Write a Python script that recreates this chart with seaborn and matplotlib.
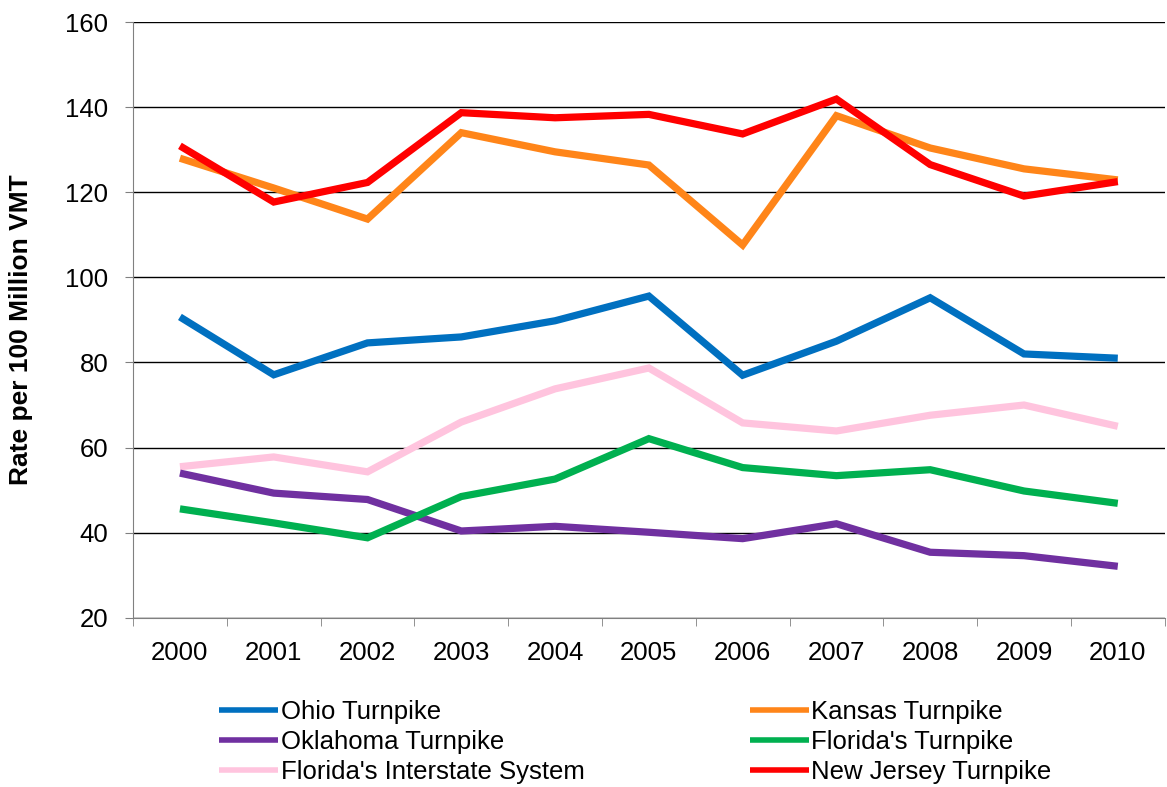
import numpy as np
import pandas as pd
import seaborn as sns
from matplotlib import pyplot as plt
from matplotlib.ticker import FixedLocator

years = ["2000", "2001", "2002", "2003", "2004", "2005", "2006", "2007", "2008", "2009", "2010"]

ohio = [90.7, 77.1, 84.6, 86.0, 89.8, 95.6, 77.0, 85.0, 95.2, 82.0, 81.0]
kansas = [128.0, 121.0, 113.7, 134.0, 129.5, 126.4, 107.6, 138.0, 130.4, 125.5, 122.9]
oklahoma = [54.0, 49.3, 47.8, 40.4, 41.5, 40.1, 38.6, 42.1, 35.4, 34.6, 32.1]
florida_tp = [45.6, 42.3, 38.8, 48.5, 52.6, 62.1, 55.3, 53.4, 54.8, 49.8, 46.9]
florida_is = [55.5, 57.8, 54.3, 66.0, 73.8, 78.7, 65.8, 63.9, 67.6, 70.0, 65.0]
new_jersey = [130.9, 117.7, 122.3, 138.7, 137.5, 138.3, 133.7, 141.9, 126.5, 119.1, 122.5]

series = {
    "Ohio Turnpike": ohio,
    "Kansas Turnpike": kansas,
    "Oklahoma Turnpike": oklahoma,
    "Florida's Turnpike": florida_tp,
    "Florida's Interstate System": florida_is,
    "New Jersey Turnpike": new_jersey,
}
colors = {
    "Ohio Turnpike": "#0070C0",
    "Kansas Turnpike": "#FF8519",
    "Oklahoma Turnpike": "#7030A0",
    "Florida's Turnpike": "#00B050",
    "Florida's Interstate System": "#FFC4DE",
    "New Jersey Turnpike": "#FF0000",
}

rows = []
for name, vals in series.items():
    for i, v in enumerate(vals):
        rows.append({"idx": i, "rate": v, "road": name})
df = pd.DataFrame(rows)

sns.set_style("white")
plt.rcParams['font.family'] = ['Liberation Sans', 'DejaVu Sans']
plt.rcParams['text.color'] = 'black'
plt.rcParams['axes.labelcolor'] = 'black'

fig = plt.figure(figsize=(11.67, 7.87), dpi=100)
ax = fig.add_axes([0.114, 0.215, 0.884, 0.757])

zorders = {"Florida's Interstate System": 2, "Oklahoma Turnpike": 3}
for name in series:
    sub = df[df["road"] == name]
    sns.lineplot(data=sub, x="idx", y="rate", color=colors[name], linewidth=5.2,
                 ax=ax, label=name, zorder=zorders.get(name, 4),
                 solid_joinstyle="miter", solid_capstyle="butt")

ax.set_xlim(-0.5, 10.5)
ax.set_ylim(20, 160)
ax.set_yticks(np.arange(20, 161, 20))
ax.yaxis.grid(True, color="black", linewidth=1.0)
ax.set_axisbelow(True)

ax.set_xticks(range(len(years)))
ax.set_xticklabels(years)
ax.xaxis.set_minor_locator(FixedLocator(np.arange(-0.5, 10.6, 1)))
ax.tick_params(axis="x", which="major", length=0, pad=16.5, labelsize=18.5, labelcolor="black")
ax.tick_params(axis="x", which="minor", length=5.8, direction="out", color="#808080", bottom=True)
ax.tick_params(axis="y", length=5.8, direction="out", color="#808080", labelsize=18.5, pad=12,
               left=True, labelcolor="black")

for s in ["top", "right"]:
    ax.spines[s].set_visible(False)
ax.spines["left"].set_color("#808080")
ax.spines["bottom"].set_color("#808080")

ax.set_xlabel("")
ax.set_ylabel("Rate per 100 Million VMT", fontsize=19, fontweight="bold")
ax.yaxis.set_label_coords(-0.097, 0.483)

ax.get_legend().remove()
handles, labels = ax.get_legend_handles_labels()
order = [0, 2, 4, 1, 3, 5]
leg = fig.legend([handles[i] for i in order], [labels[i] for i in order],
                 ncol=2, loc="upper left", bbox_to_anchor=(0.188, 0.1105),
                 frameon=False, fontsize=18.5, handlelength=2.3, handletextpad=0.08,
                 columnspacing=6.45, labelspacing=0.23, borderaxespad=0, borderpad=0)
for line in leg.get_lines():
    line.set_linewidth(4.0)
    line.set_solid_capstyle("butt")

fig.savefig("out.png", dpi=100)
